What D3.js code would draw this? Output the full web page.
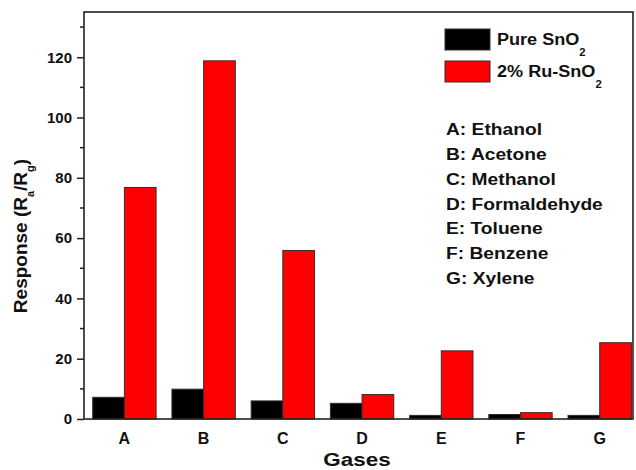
<!DOCTYPE html>
<html>
<head>
<meta charset="utf-8">
<script src="https://cdn.jsdelivr.net/npm/d3@7"></script>
<style>
  html, body { margin: 0; padding: 0; background: #fff; }
  svg text { font-family: "Liberation Sans", Arial, sans-serif; font-weight: bold; fill: #111; }
</style>
</head>
<body>
<svg id="chart" width="636" height="470"></svg>
<script>
// Gas sensing response of pure and Ru-loaded SnO2
const categories = ["A", "B", "C", "D", "E", "F", "G"];
const gasNames = ["Ethanol", "Acetone", "Methanol", "Formaldehyde", "Toluene", "Benzene", "Xylene"];
const pureSnO2 = [7.2, 9.9, 6.0, 5.2, 1.2, 1.5, 1.2];
const ruSnO2 = [76.8, 118.8, 55.9, 8.1, 22.6, 2.1, 25.3];
const yMajorTicks = [0, 20, 40, 60, 80, 100, 120];
const yMinorTicks = [10, 30, 50, 70, 90, 110, 130];
const seriesNames = ["Pure SnO", "2% Ru-SnO"];
const seriesColors = ["#000000", "#ff0000"];

const svg = d3.select("#chart");
const plot = { left: 84, right: 633, top: 12, bottom: 419 };

// category index (1..7) on a linear scale so bars sit off-centre like the original axis range
const x = d3.scaleLinear().domain([0.49, 7.42]).range([plot.left, plot.right]);
const y = d3.scaleLinear().domain([0, 135]).range([plot.bottom, plot.top]);
const barW = 0.4;
const wide = 1.13; // slightly widened lettering

// bars
const series = [pureSnO2, ruSnO2];
series.forEach((vals, s) => {
  svg.append("g")
    .selectAll("rect")
    .data(vals)
    .join("rect")
    .attr("x", (d, i) => x(i + 1 + (s === 0 ? -barW : 0)))
    .attr("width", x(barW) - x(0))
    .attr("y", d => y(d))
    .attr("height", d => y(0) - y(d))
    .attr("fill", seriesColors[s])
    .attr("stroke", "#3a2a2a")
    .attr("stroke-width", 1);
});

// y axis with major and minor ticks
const yAxis = svg.append("g")
  .attr("transform", `translate(${plot.left},0)`)
  .call(d3.axisLeft(y).tickValues(yMajorTicks).tickSize(7).tickPadding(5).tickFormat(d3.format("d")));
yAxis.selectAll("text").style("font-size", "15px");
yAxis.selectAll("line").attr("stroke", "#222").attr("stroke-width", 1.5);
yAxis.select(".domain").remove();

svg.append("g")
  .selectAll("line")
  .data(yMinorTicks)
  .join("line")
  .attr("x1", plot.left - 4).attr("x2", plot.left)
  .attr("y1", d => y(d)).attr("y2", d => y(d))
  .attr("stroke", "#222").attr("stroke-width", 1.5);

// frame
svg.append("rect")
  .attr("x", plot.left).attr("y", plot.top)
  .attr("width", plot.right - plot.left).attr("height", plot.bottom - plot.top)
  .attr("fill", "none").attr("stroke", "#222").attr("stroke-width", 1.6);

// x category labels
svg.append("g")
  .selectAll("text")
  .data(categories)
  .join("text")
  .attr("x", (d, i) => x(i + 1))
  .attr("y", 444)
  .attr("text-anchor", "middle")
  .style("font-size", "16px")
  .text(d => d);

// axis titles
svg.append("text")
  .attr("transform", `translate(357,465.5) scale(${wide + 0.05},1)`)
  .attr("text-anchor", "middle")
  .style("font-size", "19px")
  .text("Gases");

const yTitle = svg.append("text")
  .attr("transform", "translate(27,236) rotate(-90)")
  .attr("text-anchor", "middle")
  .style("font-size", "19px");
yTitle.append("tspan").text("Response (R");
yTitle.append("tspan").attr("dy", 7).style("font-size", "11px").text("a");
yTitle.append("tspan").attr("dy", -7).text("/R");
yTitle.append("tspan").attr("dy", 7).style("font-size", "11px").text("g");
yTitle.append("tspan").attr("dy", -7).text(")");

// legend
const legend = svg.append("g");
seriesNames.forEach((name, s) => {
  const ly = 29 + s * 32;
  legend.append("rect")
    .attr("x", 445).attr("y", ly).attr("width", 45).attr("height", 21)
    .attr("fill", seriesColors[s]).attr("stroke", "#3a2a2a").attr("stroke-width", 1);
  const t = legend.append("text")
    .attr("transform", `translate(497,${ly + 16}) scale(${wide},1)`)
    .style("font-size", "16px");
  t.append("tspan").text(name);
  t.append("tspan").attr("dy", 11).style("font-size", "10px").text("2");
});

// gas key
svg.append("g")
  .selectAll("text")
  .data(categories)
  .join("text")
  .attr("transform", (d, i) => `translate(446,${135 + i * 24.85}) scale(${wide},1)`)
  .style("font-size", "17px")
  .text((d, i) => `${d}: ${gasNames[i]}`);
</script>
</body>
</html>
